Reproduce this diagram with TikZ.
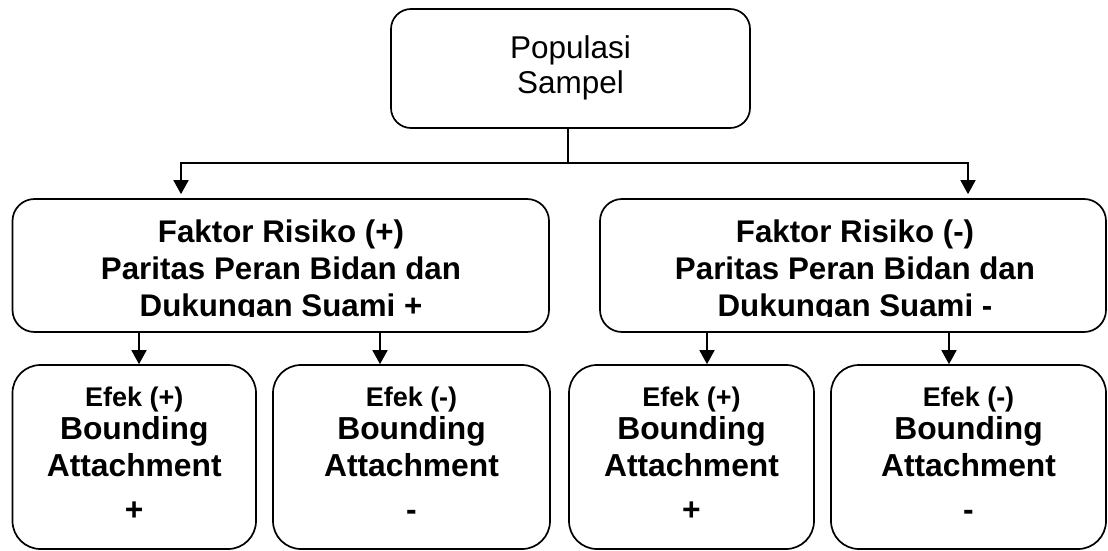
\documentclass[tikz,border=0pt]{standalone}
\usepackage{fontspec}
\setmainfont{Liberation Sans}
\usetikzlibrary{positioning,arrows.meta,calc}

\begin{document}
\begin{tikzpicture}[x=1pt,y=-1pt,
  kotak/.style={draw,line width=1.7pt,rounded corners=22pt,inner sep=0pt},
  kotakefek/.style={kotak,rounded corners=28pt,minimum height=184pt},
  judul/.style={align=center,inner sep=0pt,anchor=north,font=\bfseries\fontsize{31.3}{37}\selectfont},
  isiefek/.style={align=center,inner sep=0pt,anchor=north,font=\bfseries\fontsize{31.8}{40}\selectfont},
  panah/.style={line width=1.7pt,-{Triangle[length=14pt,width=15pt]}}]
  \useasboundingbox (0,0) rectangle (1108,551);
  \node[kotak,rounded corners=20pt,minimum width=359pt,minimum height=119pt,align=center,font=\fontsize{31.5}{35}\selectfont] (pop) at (570.5,68.5) {Populasi\\Sampel\rule[-8pt]{0pt}{1pt}};
  \node[kotak,minimum width=536.5pt,minimum height=133pt] (fplus) at (280.75,265.5) {};
  \node[kotak,minimum width=506pt,minimum height=133pt] (fmin) at (853,265.5) {};
  \begin{scope}
    \clip (fplus.north west) rectangle ($(fmin.south east)+(0,-16)$);
    \node[judul] (tplus) at (281,220) {Faktor Risiko (+)\\Paritas Peran Bidan dan\\Dukungan Suami +};
    \node[judul] (tmin) at (855,220) {Faktor Risiko (-)\\Paritas Peran Bidan dan\\Dukungan Suami -};
  \end{scope}
  \node[kotakefek,minimum width=243.5pt] (e1) at (134.25,457) {};
  \node[kotakefek,minimum width=277pt] (e2) at (411.5,457) {};
  \node[kotakefek,minimum width=245pt] (e3) at (691.5,457) {};
  \node[kotakefek,minimum width=275pt] (e4) at (968.5,457) {};
  \node[isiefek] (t1) at (134.25,387) {{\fontsize{27}{26}\selectfont Efek (+)}\\[-7pt]Bounding\\[-3pt]Attachment\\[4pt]+};
  \node[isiefek] (t2) at (411.5,387) {{\fontsize{27}{26}\selectfont Efek (-)}\\[-7pt]Bounding\\[-3pt]Attachment\\[4pt]-};
  \node[isiefek] (t3) at (691.5,387) {{\fontsize{27}{26}\selectfont Efek (+)}\\[-7pt]Bounding\\[-3pt]Attachment\\[4pt]+};
  \node[isiefek] (t4) at (968.5,387) {{\fontsize{27}{26}\selectfont Efek (-)}\\[-7pt]Bounding\\[-3pt]Attachment\\[4pt]-};
  % percabangan
  \coordinate (split) at ([xshift=-2.5pt]pop.south |- 0,163);
  \coordinate (kiri) at ([xshift=-99.75pt,yshift=4pt]fplus.north);
  \coordinate (kanan) at ([xshift=115pt,yshift=4pt]fmin.north);
  \draw[line width=1.7pt] (split |- pop.south) -- (split);
  \draw[panah] (split) -| (kiri);
  \draw[panah] (split) -| (kanan);
  \draw[panah] ([xshift=4.75pt]e1.north |- fplus.south) -- ([xshift=4.75pt]e1.north);
  \draw[panah] ([xshift=-31.5pt]e2.north |- fplus.south) -- ([xshift=-31.5pt]e2.north);
  \draw[panah] ([xshift=15.5pt]e3.north |- fmin.south) -- ([xshift=15.5pt]e3.north);
  \draw[panah] ([xshift=-19.5pt]e4.north |- fmin.south) -- ([xshift=-19.5pt]e4.north);
\end{tikzpicture}
\end{document}
